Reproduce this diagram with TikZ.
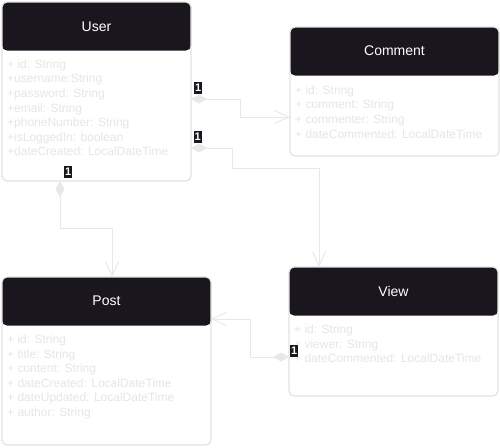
\documentclass[tikz,border=0pt]{standalone}
\usepackage{fontspec}
\setmainfont{Liberation Sans}
\usepackage{tikz}
\usetikzlibrary{arrows.meta,positioning}
\definecolor{hdr}{RGB}{25,22,29}
\definecolor{boxline}{RGB}{226,226,226}
\definecolor{attrtext}{RGB}{230,230,230}
\definecolor{lineclr}{RGB}{232,232,232}

\begin{document}
\begin{tikzpicture}[x=1pt, y=-1pt,
    classbox/.style={draw=boxline, line width=1.2pt, fill=white, rounded corners=5pt, inner sep=0pt, outer sep=0pt,
      path picture={\fill[hdr] (path picture bounding box.north west) rectangle ([yshift=-48.5pt]path picture bounding box.north east);}},
    title/.style={text=white, font=\fontsize{14}{16}\selectfont},
    attrs/.style={anchor=north west, inner sep=0pt, align=left, text=attrtext, font=\fontsize{12}{14.6}\selectfont},
    conn/.style={draw=lineclr, line width=1pt, {Diamond[length=16pt, width=9pt, fill=lineclr]}-{Straight Barb[length=14pt, width=13pt]}},
    mult/.style={fill=hdr, text=white, inner sep=1pt, text height=9pt, text depth=1pt, anchor=south west, font=\fontsize{11}{13}\bfseries\selectfont}]

  \useasboundingbox (0,0) rectangle (500,447);

  % User
  \node[classbox, minimum width=189pt, minimum height=179pt] (user) at (96.5,91.5) {};
  \node[title] (usertitle) at (96.5,26.5) {User};
  \node[attrs] (userattrs) at (7,59.5) {+ id: String\\+username:String\\+password: String\\+email: String\\
    +phoneNumber: String\\+isLoggedIn: boolean\\+dateCreated: LocalDateTime};

  % Comment
  \node[classbox, minimum width=209pt, minimum height=129pt] (comment) at (394.5,91.5) {};
  \node[title] (commenttitle) at (394.5,51) {Comment};
  \node[attrs] (commentattrs) at (295,85.5) {+ id: String\\+ comment: String\\+ commenter: String\\
    + dateCommented: LocalDateTime};

  % Post
  \node[classbox, minimum width=209pt, minimum height=168pt] (post) at (106.5,361) {};
  \node[title] (posttitle) at (106.5,301) {Post};
  \node[attrs] (postattrs) at (7,334.5) {+ id: String\\+ title: String\\+ content: String\\
    + dateCreated: LocalDateTime\\+ dateUpdated: LocalDateTime\\+ author: String};

  % View
  \node[classbox, minimum width=209pt, minimum height=129pt] (view) at (393.5,331.5) {};
  \node[title] (viewtitle) at (393.5,291) {View};
  \node[attrs] (viewattrs) at (294,324.5) {+ id: String\\+ viewer: String\\+ dateCommented: LocalDateTime};

  % Associations
  \draw[conn] ([yshift=-7.5pt]user.east) node[mult, xshift=2.5pt, yshift=5pt] (m1) {1}
    -- ++(49,0) |- ([yshift=-25.5pt]comment.west);
  \draw[conn] ([yshift=-56.5pt]user.east) node[mult, xshift=2pt, yshift=5pt] (m2) {1}
    -- ++(41,0) -- ++(0,20) -| ([xshift=-74.5pt]view.north);
  \draw[conn] ([xshift=-36.5pt]user.south) node[mult, xshift=3.5pt, yshift=3pt] (m3) {1}
    -- ++(0,47) -| ([xshift=5.5pt]post.north);
  \draw[conn] ([yshift=-25.5pt]view.west) node[mult, xshift=0.5pt] (m4) {1}
    -- ++(-39,0) |- ([yshift=42pt]post.east);
\end{tikzpicture}
\end{document}
